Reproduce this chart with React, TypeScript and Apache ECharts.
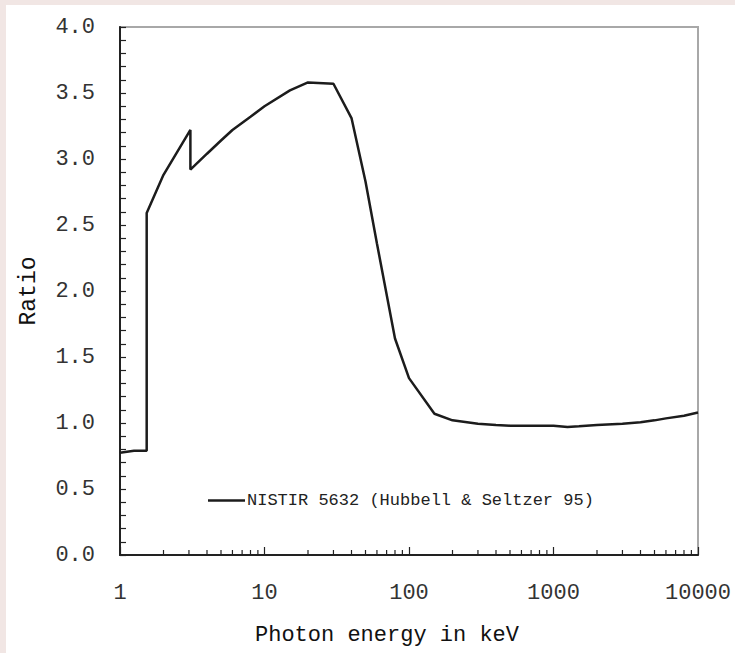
import React, { useEffect, useRef } from "react";
import * as echarts from "echarts";

const energies = [1, 1.25, 1.53, 1.53, 2, 3.07, 3.07, 4, 5, 6, 8, 10, 15, 20, 30, 40, 50, 60, 80, 100, 150, 200, 300, 400, 500, 600, 800, 1000, 1250, 1500, 2000, 3000, 4000, 5000, 6000, 8000, 10000];
const ratios = [0.775, 0.79, 0.79, 2.59, 2.88, 3.22, 2.92, 3.04, 3.14, 3.22, 3.32, 3.40, 3.52, 3.58, 3.57, 3.31, 2.83, 2.36, 1.64, 1.34, 1.07, 1.02, 0.995, 0.985, 0.98, 0.98, 0.98, 0.98, 0.97, 0.975, 0.985, 0.995, 1.005, 1.02, 1.035, 1.055, 1.08];
const seriesName = "NISTIR 5632 (Hubbell & Seltzer 95)";
const xTitle = "Photon energy in keV";
const yTitle = "Ratio";
const decades = [1, 10, 100, 1000];
const minorMultipliers = [2, 3, 4, 5, 6, 7, 8, 9];

const FONT = "Liberation Mono";

export default function App() {
  const ref = useRef<HTMLDivElement>(null);
  useEffect(() => {
    document.body.style.margin = "0";
    if (!ref.current) return;
    const chart = echarts.init(ref.current, null, { renderer: "svg" });
    const minorTicks: number[][] = [];
    decades.forEach((d) => minorMultipliers.forEach((m) => minorTicks.push([d * m, 0])));
    const lineData = energies.map((e, i) => [e, ratios[i]]);
    chart.setOption({
      animation: false,
      backgroundColor: "#ffffff",
      grid: {
        left: 114,
        top: 22,
        right: 37,
        bottom: 98,
        outerBoundsMode: "none",
        containLabel: false,
        show: true,
        borderColor: "#a8a8a8",
        borderWidth: 2,
        backgroundColor: "transparent",
      },
      legend: {
        data: [{ name: seriesName, icon: "rect" }],
        left: 202,
        top: 487,
        padding: 0,
        itemWidth: 37,
        itemHeight: 2.5,
        itemStyle: { color: "#1c1c1c" },
        textStyle: { fontFamily: FONT, fontSize: 17, color: "#222", padding: [0, 0, 0, -3] },
      },
      xAxis: {
        type: "log",
        logBase: 10,
        min: 1,
        max: 10000,
        axisLine: { show: true, lineStyle: { color: "#222", width: 2 } },
        axisTick: { show: true, inside: true, length: 8, lineStyle: { color: "#222", width: 1.2 } },
        splitLine: { show: false },
        axisLabel: {
          fontFamily: FONT,
          fontSize: 22,
          color: "#333",
          margin: 27,
          formatter: (v: number) => String(Math.round(v)),
        },
      },
      yAxis: {
        type: "value",
        min: 0,
        max: 4,
        interval: 0.5,
        axisLine: { show: true, lineStyle: { color: "#222", width: 2 } },
        axisTick: { show: true, inside: true, length: 6, lineStyle: { color: "#222", width: 1.2 } },
        minorTick: { show: true, splitNumber: 5, length: 6, lineStyle: { color: "#222", width: 1.2 } },
        splitLine: { show: false },
        minorSplitLine: { show: false },
        axisLabel: {
          fontFamily: FONT,
          fontSize: 22,
          color: "#333",
          margin: 25,
          formatter: (v: number) => v.toFixed(1),
        },
      },
      graphic: [
        {
          type: "text",
          x: 381,
          y: 630,
          style: {
            text: xTitle,
            font: `22px "${FONT}"`,
            fill: "#111",
            textAlign: "center",
            textVerticalAlign: "middle",
          },
        },
        {
          type: "text",
          x: 23,
          y: 286,
          rotation: Math.PI / 2,
          style: {
            text: yTitle,
            font: `23px "${FONT}"`,
            fill: "#111",
            textAlign: "center",
            textVerticalAlign: "middle",
          },
        },
      ],
      series: [
        {
          name: seriesName,
          type: "line",
          data: lineData,
          symbol: "none",
          showSymbol: false,
          lineStyle: { color: "#1c1c1c", width: 2.5 },
          itemStyle: { color: "#1c1c1c" },
          z: 5,
        },
        {
          name: "minorTicks",
          type: "custom",
          silent: true,
          data: minorTicks,
          encode: { x: 0, y: 1 },
          renderItem: (params: any, api: any) => {
            const p = api.coord([api.value(0), 0]);
            return {
              type: "line",
              shape: { x1: p[0], y1: p[1], x2: p[0], y2: p[1] - 5 },
              style: { stroke: "#222", lineWidth: 1.2 },
            };
          },
          z: 4,
        },
      ],
    });
    return () => chart.dispose();
  }, []);
  return (
    <div style={{ width: 735, height: 653, background: "#f1e6e4", position: "relative", overflow: "hidden" }}>
      <div ref={ref} style={{ position: "absolute", left: 6, top: 5, width: 729, height: 648, background: "#fff" }} />
    </div>
  );
}
